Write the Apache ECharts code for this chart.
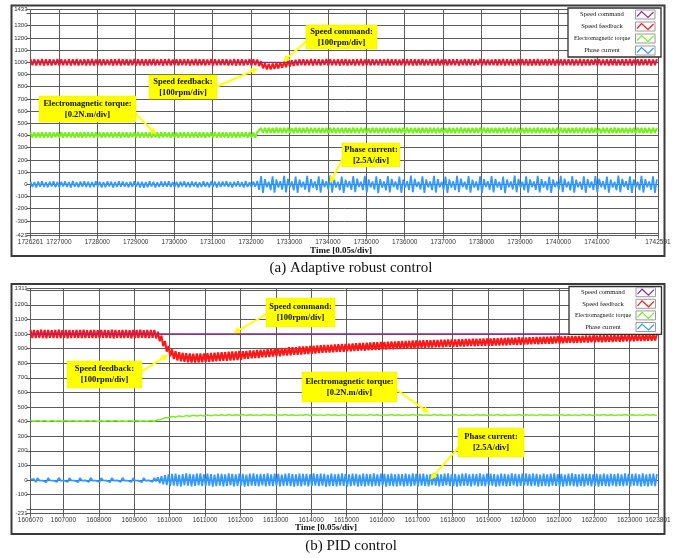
<!DOCTYPE html>
<html>
<head>
<meta charset="utf-8">
<script src="https://cdn.jsdelivr.net/npm/echarts@6/dist/echarts.min.js"></script>
<style>
  html, body { margin: 0; padding: 0; background: #fff; }
  #chart { width: 674px; height: 558px; }
</style>
</head>
<body>
<div id="chart"></div>
<script>
// ---- shared series names / colours ----
const seriesNames = ['Speed command', 'Speed feedback', 'Electromagnetic torque', 'Phase current'];
const seriesColors = ['#8e2a92', '#ff1616', '#76f01c', '#3399ff'];

// ---- panel (a): adaptive robust control, one sample every 50 time units ----
const timeA0 = 1726261, timeA1 = 1742591, stepA = 50;
const xLabelsA = [1726261, 1727000, 1728000, 1729000, 1730000, 1731000, 1732000, 1733000, 1734000,
  1735000, 1736000, 1737000, 1738000, 1739000, 1740000, 1741000, 1742591];
const yLabelsA = [-421, -300, -200, -100, 0, 100, 200, 300, 400, 500, 600, 700, 800, 900, 1000,
  1100, 1200, 1300, 1433];
const speedCmdA = [[1726261, 1000], [1742591, 1000]];
const speedFbA = [
  1024,976,1025,975,1023,977,1026,974,1024,976,1025,975,1022,978,1026,974,1025,976,1023,977,
  1025,975,1024,977,1026,975,1023,976,1025,974,1024,976,1026,975,1023,977,1025,975,1024,976,
  1023,976,1025,975,1024,977,1026,974,1024,976,1025,975,1023,977,1026,975,1024,976,1025,974,
  1025,975,1024,977,1026,975,1023,976,1025,974,1024,976,1026,975,1023,977,1025,975,1024,976,
  1024,976,1025,975,1023,977,1026,974,1024,976,1025,975,1022,978,1026,974,1025,976,1023,977,
  1024,976,1025,975,1023,977,1026,974,1024,976,1025,975,1022,978,1026,974,1025,976,1023,971,
  1009,951,992,941,988,941,991,945,995,949,1000,955,1006,961,1012,966,1016,970,1020,974,
  1024,976,1025,975,1023,977,1026,974,1024,976,1025,975,1022,978,1026,974,1025,976,1023,977,
  1025,975,1024,977,1026,975,1023,976,1025,974,1024,976,1026,975,1023,977,1025,975,1024,976,
  1023,976,1025,975,1024,977,1026,974,1024,976,1025,975,1023,977,1026,975,1024,976,1025,974,
  1025,975,1024,977,1026,975,1023,976,1025,974,1024,976,1026,975,1023,977,1025,975,1024,976,
  1024,976,1025,975,1023,977,1026,974,1024,976,1025,975,1022,978,1026,974,1025,976,1023,977,
  1023,976,1025,975,1024,977,1026,974,1024,976,1025,975,1023,977,1026,975,1024,976,1025,974,
  1025,975,1024,977,1026,975,1023,976,1025,974,1024,976,1026,975,1023,977,1025,975,1024,976,
  1024,976,1025,975,1023,977,1026,974,1024,976,1025,975,1022,978,1026,974,1025,976,1023,977,
  1025,975,1024,977,1026,975,1023,976,1025,974,1024,976,1026,975,1023,977,1025,975,1024,976,
  1024,976,1025,975,1023,977,1026
];
const torqueA = [
  426,384,427,383,425,385,428,382,426,384,427,383,425,386,426,384,428,383,425,385,
  426,384,427,382,425,385,426,383,428,384,425,386,427,383,426,384,425,382,427,385,
  426,384,427,383,425,385,428,382,426,384,427,383,425,386,426,384,428,383,425,385,
  426,384,427,382,425,385,426,383,428,384,425,386,427,383,426,384,425,382,427,385,
  426,384,427,383,425,385,428,382,426,384,427,383,425,386,426,384,428,383,425,385,
  426,384,427,382,425,385,426,383,428,384,425,386,427,383,426,384,425,382,427,421,
  463,421,462,420,464,422,463,419,465,421,462,420,464,422,463,421,461,420,464,422,
  463,419,462,421,465,420,463,422,462,421,464,420,463,421,462,419,464,422,463,420,
  463,421,462,420,464,422,463,419,465,421,462,420,464,422,463,421,461,420,464,422,
  463,419,462,421,465,420,463,422,462,421,464,420,463,421,462,419,464,422,463,420,
  463,421,462,420,464,422,463,419,465,421,462,420,464,422,463,421,461,420,464,422,
  463,419,462,421,465,420,463,422,462,421,464,420,463,421,462,419,464,422,463,420,
  463,421,462,420,464,422,463,419,465,421,462,420,464,422,463,421,461,420,464,422,
  463,419,462,421,465,420,463,422,462,421,464,420,463,421,462,419,464,422,463,420,
  463,421,462,420,464,422,463,419,465,421,462,420,464,422,463,421,461,420,464,422,
  463,419,462,421,465,420,463,422,462,421,464,420,463,421,462,419,464,422,463,420,
  463,421,462,420,464,422,463
];
const phaseA = [
  20,-22,18,-25,23,-19,26,-21,17,-24,22,-18,25,-23,19,-26,21,-17,24,-22,
  18,-25,27,-20,16,-23,22,-19,25,-21,20,-24,18,-22,26,-18,21,-25,19,-23,
  24,-17,22,-26,18,-21,25,-20,23,-19,17,-24,21,-22,26,-18,20,-25,22,-27,
  19,-23,25,-18,21,-26,17,-22,24,-20,23,-19,26,-21,18,-24,20,-25,22,-17,
  25,-21,19,-24,23,-18,21,-26,17,-22,26,-20,18,-23,24,-19,22,-25,20,-21,
  23,-18,25,-22,19,-26,21,-17,24,-20,18,-25,27,-21,16,-23,22,-19,28,
  -45,68,-70,42,-24,22,  -47,65,-68,40,-26,25,  -43,70,-66,45,-22,24,
  -49,64,-71,39,-25,21,  -44,69,-65,43,-27,23,  -46,66,-69,41,-23,26,
  -42,71,-67,44,-26,22,  -48,63,-70,38,-24,25,  -45,67,-64,46,-22,21,
  -47,70,-68,40,-25,24,  -43,65,-72,42,-27,23,  -49,68,-66,44,-23,22,
  -44,64,-69,39,-26,25,  -46,71,-65,45,-22,21,  -42,66,-70,41,-25,24,
  -48,69,-67,43,-24,22,  -45,63,-71,40,-27,26,  -47,70,-64,46,-23,21,
  -43,67,-68,38,-26,23,  -49,65,-70,42,-22,25,  -44,68,-66,44,-25,22,
  -46,64,-72,39,-24,24,  -42,71,-65,45,-27,21,  -48,66,-69,41,-23,23,
  -45,69,-67,43,-26,25,  -47,63,-70,40,-22,22,  -43,70,-64,46,-25,24,
  -49,67,-68,38,-24,21,  -44,65,-71,42,-27,23,  -46,68,-66,44,-23,26,
  -42,64,-69,39,-26,22,  -48,71,-65,45,-22,25,  -45,66,-70,41,-25,21,
  -47,69,-67,43,-24,24,
  -44,65,-70,40
];

// ---- panel (b): PID control, one sample every 50 time units ----
const timeB0 = 1606070, timeB1 = 1623801, stepB = 50, stepTorqueB = 100;
const xLabelsB = [1606070, 1607000, 1608000, 1609000, 1610000, 1611000, 1612000, 1613000, 1614000,
  1615000, 1616000, 1617000, 1618000, 1619000, 1620000, 1621000, 1622000, 1623000, 1623801];
const yLabelsB = [-231, -100, 0, 100, 200, 300, 400, 500, 600, 700, 800, 900, 1000, 1100, 1200, 1311];
const speedCmdB = [[1606070, 1000], [1623801, 1000]];
const speedFbB = [
  1027,973,1028,972,1026,974,1029,973,1027,971,1028,974,1026,972,1027,973,1029,972,1026,974,
  1028,971,1027,973,1026,974,1028,972,1027,973,1029,972,1026,974,1028,973,1027,972,1026,973,
  1027,974,1028,972,1026,973,1029,971,1027,974,1026,972,1028,973,1027,974,1026,971,1028,973,
  1027,972,1029,974,1026,973,1028,972,1027,974,1027,970,1016,951,989,917,952,879,918,847,
  895,829,883,819,876,813,871,809,868,807,866,805,865,805,866,804,866,806,867,808,
  869,810,870,811,872,813,874,815,875,816,876,817,878,819,880,820,881,822,883,824,
  882,830,884,830,887,833,887,836,891,836,892,840,893,841,897,842,898,846,899,847,
  902,848,904,852,905,853,909,854,909,857,910,858,914,859,915,862,916,863,918,865,
  919,867,921,869,923,871,924,873,925,874,926,875,928,876,930,878,931,879,932,881,
  934,882,935,884,937,885,938,887,939,886,940,889,941,890,943,891,944,892,945,893,
  946,893,947,895,949,896,949,898,950,897,952,899,952,901,953,900,955,902,955,903,
  955,905,957,906,957,908,958,907,959,909,959,910,961,910,961,912,962,912,963,913,
  963,913,964,915,964,914,966,916,965,917,967,916,967,918,968,917,969,919,969,920,
  969,920,971,921,971,922,972,923,973,922,974,924,974,926,975,925,977,927,976,928,
  976,929,978,929,978,931,980,930,980,932,981,933,981,934,983,933,983,936,984,935,
  983,937,985,938,985,940,986,939,987,941,987,941,988,942,989,942,989,944,990,943,
  990,945,991,944,992,946,993,947,992,946,994,948,994,947,995,949,996,950,995,950,
  995,951,996,952,997,952,997,953,998,954,998,954,999,955,999
];
const torqueB = [
  408,402,407,403,408,401,407,403,406,402,
  408,403,407,402,406,403,408,402,407,401,
  406,403,408,402,407,403,406,401,408,403,
  407,402,406,403,408,402,
  413,415,427,426,435,431,439,434,441,436,
  443,438,444,439,445,440,446,441,447,442,
  448,442,447,443,448,441,447,443,446,442,
  448,443,447,442,446,443,448,442,447,441,
  446,443,448,442,447,443,446,441,448,443,
  447,442,446,443,448,442,447,443,446,441,
  448,443,447,442,446,443,448,442,447,441,
  446,443,448,442,447,443,446,441,448,443,
  447,442,446,443,448,442,447,443,446,441,
  448,443,447,442,446,443,448,442,447,441,
  446,443,448,442,447,443,446,441,448,443,
  447,442,446,443,448,442,447,443,446,441,
  448,443,447,442,446,443,448,442,447,441,
  446,443,448,442,447,443,446,441,448,443,
  447,442
];
const phaseB = [
  4,-3,5,-14,13,-4,3,-5,4,-15,14,-3,5,-4,3,-13,15,-4,3,-5,
  4,-14,13,-3,5,-4,3,-15,14,-5,4,-3,5,-13,15,-4,3,-5,4,-14,
  13,-3,5,-4,3,-15,14,-5,4,-3,5,-13,15,-4,3,-5,4,-14,13,-3,
  5,-4,3,-15,14,-5,4,-3,5,-13,15,-9,18,-22,26,-30,33,-35,38,-40,
  42,-38,44,-41,37,-43,40,-36,45,-39,41,-44,38,-40,43,-37,46,-42,39,-41,
  44,-38,40,-45,37,-42,43,-39,41,-44,38,-41,45,-37,42,-43,39,-40,44,-38,
  41,-45,37,-42,43,-39,46,-41,38,-44,42,-37,40,-43,45,-40,39,-42,44,-38,
  41,-44,37,-41,43,-39,46,-42,40,-45,38,-40,44,-43,41,-37,42,-44,39,-41,
  45,-38,40,-42,43,-39,41,-45,37,-42,44,-40,39,-43,42,-38,46,-41,40,-44,
  38,-42,43,-39,41,-45,37,-40,44,-43,42,-38,40,-44,45,-41,39,-42,43,-37,
  41,-45,38,-40,44,-42,39,-43,42,-38,40,-44,43,-41,38,-42,45,-39,41,-43,
  42,-38,44,-41,37,-43,40,-36,45,-39,41,-44,38,-40,43,-37,46,-42,39,-41,
  41,-45,37,-42,43,-39,46,-41,38,-44,42,-37,40,-43,45,-40,39,-42,44,-38,
  44,-38,40,-45,37,-42,43,-39,41,-44,38,-41,45,-37,42,-43,39,-40,44,-38,
  45,-38,40,-42,43,-39,41,-45,37,-42,44,-40,39,-43,42,-38,46,-41,40,-44,
  41,-44,37,-41,43,-39,46,-42,40,-45,38,-40,44,-43,41,-37,42,-44,39,-41,
  41,-45,38,-40,44,-42,39,-43,42,-38,40,-44,43,-41,38,-42,45,-39,41,-43,
  42,-39,44,-40,38,-43,45,-41,39,-44,41,-38,43,-42,40
];

// ---- callouts: label text, box (px), arrow start (px), arrow tip (data) ----
const notesA = [
  { text: 'Speed command:\n[100rpm/div]', box: [306, 25, 71, 24], from: [308, 40], tip: [1732830, 1005] },
  { text: 'Speed feedback:\n[100rpm/div]', box: [149, 75, 68, 24], from: [216, 87], tip: [1732180, 950] },
  { text: 'Electromagnetic torque:\n[0.2N.m/div]', box: [39, 96, 97, 26], from: [134, 112], tip: [1729540, 404] },
  { text: 'Phase current:\n[2.5A/div]', box: [342, 143, 58, 24], from: [343, 158], tip: [1734050, 8] }
];
const notesB = [
  { text: 'Speed command:\n[100rpm/div]', box: [266, 298, 69, 29], from: [267, 314], tip: [1611800, 1005] },
  { text: 'Speed feedback:\n[100rpm/div]', box: [67, 361, 75, 27], from: [141, 372], tip: [1609960, 858] },
  { text: 'Electromagnetic torque:\n[0.2N.m/div]', box: [302, 372, 95, 30], from: [397, 390], tip: [1617340, 458] },
  { text: 'Phase current:\n[2.5A/div]', box: [458, 428, 66, 29], from: [459, 447], tip: [1617360, 2] }
];

const chart = echarts.init(document.getElementById('chart'), null, { renderer: 'canvas' });

const gridLineColor = '#5c5c5c';
const labelFont = 'Liberation Sans';
const serifFont = '"Liberation Serif", "Times New Roman", serif';

function toPairs(values, t0, step) {
  return values.map((v, i) => [t0 + i * step, v]);
}

function xAxisFor(gridIndex, min, max, labels) {
  const shown = new Set(labels);
  return {
    type: 'value', gridIndex, min, max, splitNumber: 16, minInterval: 1000, maxInterval: 1000,
    axisLine: { show: true, onZero: false, lineStyle: { color: gridLineColor, width: 1 } },
    axisTick: { show: true, length: 3, lineStyle: { color: gridLineColor } },
    axisLabel: {
      show: true, fontSize: 6.5, fontFamily: labelFont, color: '#333', margin: 3,
      showMinLabel: true, showMaxLabel: true, hideOverlap: false,
      formatter: v => shown.has(Math.round(v)) ? String(Math.round(v)) : ''
    },
    splitLine: { show: true, lineStyle: { color: gridLineColor, width: 1 } }
  };
}

function yAxisFor(gridIndex, min, max, labels) {
  const shown = new Set(labels);
  return {
    type: 'value', gridIndex, min, max, splitNumber: 18, minInterval: 100, maxInterval: 100,
    axisLine: { show: true, onZero: false, lineStyle: { color: gridLineColor, width: 1 } },
    axisTick: { show: true, length: 4, lineStyle: { color: gridLineColor } },
    axisLabel: {
      show: true, fontSize: 6, fontFamily: labelFont, color: '#333', margin: 3,
      showMinLabel: true, showMaxLabel: true, hideOverlap: false,
      formatter: v => shown.has(Math.round(v)) ? String(Math.round(v)) : ''
    },
    splitLine: { show: true, lineStyle: { color: gridLineColor, width: 1 } }
  };
}

function lineSeries(name, idx, data, width, z) {
  return {
    type: 'line', name, xAxisIndex: idx, yAxisIndex: idx, data,
    symbol: 'none', showSymbol: false, silent: true, animation: false, z,
    lineStyle: { color: seriesColors[seriesNames.indexOf(name)], width },
    emphasis: { disabled: true }
  };
}

const option = {
  backgroundColor: '#ffffff',
  animation: false,
  grid: [
    { left: 30.5, top: 9.5, width: 627.5, height: 226.2 },
    { left: 30.5, top: 288.6, width: 627.5, height: 225.1 }
  ],
  xAxis: [
    xAxisFor(0, timeA0, timeA1, xLabelsA),
    xAxisFor(1, timeB0, timeB1, xLabelsB)
  ],
  yAxis: [
    yAxisFor(0, -421, 1433, yLabelsA),
    yAxisFor(1, -231, 1311, yLabelsB)
  ],
  series: [
    lineSeries('Phase current', 0, toPairs(phaseA, timeA0, stepA), 1.7, 2),
    lineSeries('Electromagnetic torque', 0, toPairs(torqueA, timeA0, stepA), 2, 3),
    lineSeries('Speed feedback', 0, toPairs(speedFbA, timeA0, stepA), 2, 4),
    lineSeries('Speed command', 0, speedCmdA, 1.2, 5),
    lineSeries('Phase current', 1, toPairs(phaseB, timeB0, stepB), 1.8, 2),
    lineSeries('Electromagnetic torque', 1, toPairs(torqueB, timeB0, stepTorqueB), 1.5, 3),
    lineSeries('Speed feedback', 1, toPairs(speedFbB, timeB0, stepB), 2.1, 4),
    lineSeries('Speed command', 1, speedCmdB, 1.3, 5)
  ]
};
chart.setOption(option);

// ---- decorations: frames, legends, callouts, captions ----
const yellow = '#ffff00';

function arrow(p0, p1) {
  const dx = p1[0] - p0[0], dy = p1[1] - p0[1];
  const len = Math.hypot(dx, dy) || 1;
  const ux = dx / len, uy = dy / len;
  const hl = 7, hw = 3.3;
  const bx = p1[0] - ux * hl, by = p1[1] - uy * hl;
  return [
    { type: 'line', z: 50, silent: true,
      shape: { x1: p0[0], y1: p0[1], x2: bx + ux, y2: by + uy },
      style: { stroke: yellow, lineWidth: 2 } },
    { type: 'polygon', z: 50, silent: true,
      shape: { points: [[p1[0], p1[1]], [bx - uy * hw, by + ux * hw], [bx + uy * hw, by - ux * hw]] },
      style: { fill: yellow } }
  ];
}

function callouts(notes, gridIndex) {
  const out = [];
  notes.forEach(n => {
    const tip = chart.convertToPixel({ gridIndex }, n.tip);
    out.push(...arrow(n.from, tip));
    const [x, y, w, h] = n.box;
    out.push({ type: 'rect', z: 51, silent: true, shape: { x, y, width: w, height: h },
      style: { fill: yellow, stroke: '#e6e600', lineWidth: 0.5 } });
    out.push({ type: 'text', z: 52, silent: true, x: x + w / 2, y: y + h / 2,
      style: { text: n.text, fill: '#111', fontFamily: serifFont, fontWeight: 'bold', fontSize: 8.5,
        lineHeight: 11, align: 'center', verticalAlign: 'middle' } });
  });
  return out;
}

function legendBox(x, y, w, rowYs) {
  const out = [];
  const h = rowYs[rowYs.length - 1] - rowYs[0] + 13;
  out.push({ type: 'rect', z: 60, silent: true, shape: { x, y, width: w, height: h },
    style: { fill: '#fff', stroke: '#2e2e2e', lineWidth: 1.3 } });
  seriesNames.forEach((name, i) => {
    const cy = rowYs[i];
    out.push({ type: 'text', z: 61, silent: true, x: x + 34, y: cy,
      style: { text: name, fill: '#111', fontFamily: serifFont, fontSize: i === 2 ? 6 : 6.6,
        align: 'center', verticalAlign: 'middle' } });
    const bx = x + w - 25.5, by = cy - 4.5;
    out.push({ type: 'rect', z: 61, silent: true, shape: { x: bx, y: by, width: 19.5, height: 9 },
      style: { fill: '#fff', stroke: '#9a9a9a', lineWidth: 1 } });
    out.push({ type: 'polyline', z: 62, silent: true,
      shape: { points: [[bx + 1.5, by + 6.5], [bx + 6, by + 1.5], [bx + 12.5, by + 7.5], [bx + 18, by + 2]] },
      style: { stroke: seriesColors[i], lineWidth: 1.2, fill: null } });
  });
  return out;
}

const graphics = [
  { type: 'rect', z: 1, silent: true, shape: { x: 11.5, y: 5.5, width: 653, height: 250.5 },
    style: { fill: null, stroke: '#3a3a3a', lineWidth: 2 } },
  { type: 'rect', z: 1, silent: true, shape: { x: 11.5, y: 284, width: 653, height: 250 },
    style: { fill: null, stroke: '#3a3a3a', lineWidth: 2 } },
  { type: 'text', z: 5, silent: true, x: 341, y: 250.5,
    style: { text: 'Time [0.05s/div]', fill: '#111', fontFamily: serifFont, fontWeight: 'bold', fontSize: 9,
      align: 'center', verticalAlign: 'middle' } },
  { type: 'text', z: 5, silent: true, x: 326, y: 528,
    style: { text: 'Time [0.05s/div]', fill: '#111', fontFamily: serifFont, fontWeight: 'bold', fontSize: 9,
      align: 'center', verticalAlign: 'middle' } },
  { type: 'text', z: 5, silent: true, x: 351, y: 268,
    style: { text: '(a) Adaptive robust control', fill: '#111', fontFamily: serifFont, fontSize: 15,
      align: 'center', verticalAlign: 'middle' } },
  { type: 'text', z: 5, silent: true, x: 351, y: 546.5,
    style: { text: '(b) PID control', fill: '#111', fontFamily: serifFont, fontSize: 15,
      align: 'center', verticalAlign: 'middle' } },
  ...legendBox(568, 8, 93, [14.5, 26.5, 38.5, 50.5]),
  ...legendBox(569, 286.5, 92.5, [292.2, 303.8, 315.4, 327]),
  ...callouts(notesA, 0),
  ...callouts(notesB, 1)
];

chart.setOption({ graphic: graphics });
</script>
</body>
</html>
